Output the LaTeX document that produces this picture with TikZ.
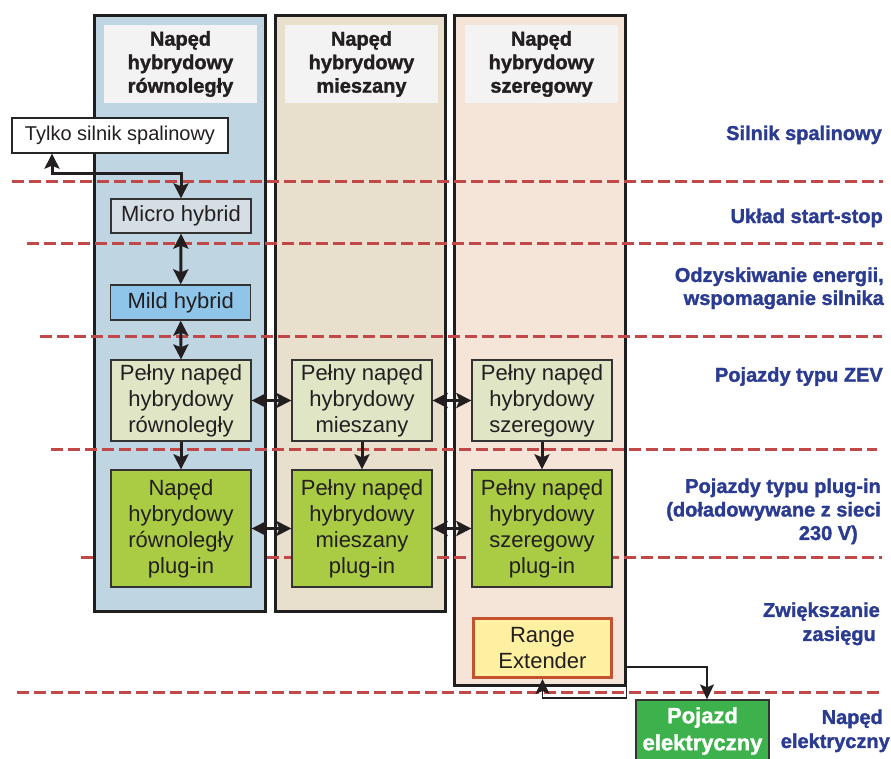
\documentclass[tikz,border=0pt]{standalone}
\usepackage{fontspec}
\setmainfont{Liberation Sans}
\newfontfamily\heavyfont{Liberation Sans}[BoldFeatures={FakeBold=1.5}]
\usetikzlibrary{arrows.meta}
\definecolor{colblue}{HTML}{BFD5E2}
\definecolor{colbeige}{HTML}{E8E0CC}
\definecolor{colpeach}{HTML}{F5E4D8}
\definecolor{hdrgray}{HTML}{F3F3F3}
\definecolor{microfill}{HTML}{D5DEE5}
\definecolor{mildfill}{HTML}{8EC5E8}
\definecolor{fullfill}{HTML}{DFE5C5}
\definecolor{plugfill}{HTML}{AACB44}
\definecolor{refill}{HTML}{FDF0A0}
\definecolor{reborder}{HTML}{C5512F}
\definecolor{evfill}{HTML}{3DB14B}
\definecolor{lblblue}{HTML}{2A3B91}
\definecolor{dashred}{HTML}{C04848}
\definecolor{inktext}{HTML}{231F20}
\begin{document}
\begin{tikzpicture}[x=1pt,y=-1pt,
 column/.style={draw=black!88, line width=3pt, inner sep=0pt, minimum width=171pt},
 header/.style={fill=hdrgray, inner sep=0pt, minimum width=153pt, minimum height=78pt, align=center, text=inktext, font=\heavyfont\bfseries\fontsize{20}{23.5}\selectfont},
 stage/.style={draw=black!80, line width=1.3pt, inner sep=0pt, minimum width=140pt, align=center, text=inktext, font=\fontsize{22}{26}\selectfont},
 rowlabel/.style={inner sep=0pt, align=right, text=lblblue, font=\heavyfont\bfseries\fontsize{20}{23.5}\selectfont},
 limit/.style={draw=dashred, line width=3pt, dash pattern=on 12pt off 5pt},
 tip/.tip={Stealth[length=15pt,width=15pt,inset=3pt]},
 link/.style={draw=inktext, line width=3pt, tip-tip},
 flow/.style={draw=inktext, line width=3pt, -tip},
 thinflow/.style={draw=inktext, line width=1.4pt, -{Stealth[length=15pt,width=14pt,inset=3pt]}}
]
\useasboundingbox (0,0) rectangle (891,758);

% columns
\node[column, fill=colblue, minimum height=596pt] (colA) at (180,313.5) {};
\node[column, fill=colbeige, minimum height=596pt, minimum width=170pt] (colB) at (360.5,313.5) {};
\node[column, fill=colpeach, minimum height=670pt, minimum width=170.5pt] (colC) at (539.75,350.5) {};

% headers
\node[header] (hA) at (180.5,64) {Napęd\\hybrydowy\\równoległy};
\node[header] (hB) at (361.5,64) {Napęd\\hybrydowy\\mieszany};
\node[header] (hC) at (541.5,64) {Napęd\\hybrydowy\\szeregowy};

% dashed limits
\draw[limit] (12,181.5) -- (883,181.5);
\draw[limit] (27,243.5) -- (883,243.5);
\draw[limit] (40,336.5) -- (882,336.5);
\draw[limit] (51,449.5) -- (877,449.5);
\draw[limit] (81,557.5) -- (93,557.5);
\draw[limit] (267,557.5) -- (882,557.5);
\draw[limit] (17,692.5) -- (883,692.5);

% boxes
\node[draw=black!85, line width=1.3pt, fill=white, inner sep=0pt, minimum width=216pt, minimum height=35pt, font=\fontsize{20}{24}\selectfont, text=inktext] (ice) at (120,135.5) {Tylko silnik spalinowy};
\node[stage, fill=microfill, minimum height=34pt] (micro) at (181,216) {Micro hybrid};
\node[stage, fill=mildfill, minimum height=35pt] (mild) at (180.7,302.5) {Mild hybrid};
\node[stage, fill=fullfill, minimum height=81pt] (fullA) at (181,400.5) {Pełny napęd\\hybrydowy\\równoległy};
\node[stage, fill=fullfill, minimum height=81pt] (fullB) at (362,400.5) {Pełny napęd\\hybrydowy\\mieszany};
\node[stage, fill=fullfill, minimum height=81pt] (fullC) at (542,400.5) {Pełny napęd\\hybrydowy\\szeregowy};
\node[stage, fill=plugfill, minimum height=117pt] (plugA) at (181,528.5) {Napęd\\hybrydowy\\równoległy\\plug-in};
\node[stage, fill=plugfill, minimum height=117pt] (plugB) at (362,528.5) {Pełny napęd\\hybrydowy\\mieszany\\plug-in};
\node[stage, fill=plugfill, minimum height=117pt] (plugC) at (542,528.5) {Pełny napęd\\hybrydowy\\szeregowy\\plug-in};
\node[stage, fill=refill, draw=reborder, line width=3pt, minimum width=138pt, minimum height=59pt, font=\fontsize{22}{25.5}\selectfont] (rex) at (542.5,648) {Range\\Extender};
\node[fill=evfill, draw=black!80, line width=1.3pt, inner sep=0pt, minimum width=133pt, minimum height=62pt, align=center, text=white, font=\heavyfont\bfseries\fontsize{22}{27}\selectfont] (ev) at (702.5,731) {Pojazd\\elektryczny};

% row labels
\node[rowlabel, anchor=base east] (l1) at (882,140) {Silnik spalinowy};
\node[rowlabel, anchor=base east] (l2) at (883,223) {Układ start-stop};
\node[rowlabel, anchor=east, font=\heavyfont\bfseries\fontsize{20}{23}\selectfont] (l3) at (884,288.3) {Odzyskiwanie energii,\\wspomaganie silnika};
\node[rowlabel, anchor=base east] (l4) at (883,381.7) {Pojazdy typu ZEV};
\node[rowlabel, anchor=east] (l5) at (881,511.3) {Pojazdy typu plug-in\\(doładowywane z sieci\\230 V)\hspace*{23pt}};
\node[rowlabel, anchor=east, font=\heavyfont\bfseries\fontsize{20}{24}\selectfont] (l6) at (880,623.8) {Zwiększanie\\zasięgu\hspace*{4pt}};
\node[rowlabel, anchor=east, font=\heavyfont\bfseries\fontsize{20}{24}\selectfont] (l7) at (890,730.8) {Napęd\hspace*{7pt}\\elektryczny};

% connectors
\coordinate (bend) at (52,173);
\draw[link] (bend |- ice.south) -- (bend) -| (micro.north);
\draw[link] (micro.south) -- (mild.north);
\draw[link] (mild.south) -- (fullA.north);
\draw[link] (fullA.east) -- (fullB.west);
\draw[link] (fullB.east) -- (fullC.west);
\draw[link] (plugA.east) -- (plugB.west);
\draw[link] (plugB.east) -- (plugC.west);
\draw[flow] (fullA.south) -- (plugA.north);
\draw[flow] (fullB.south) -- (plugB.north);
\draw[flow] (fullC.south) -- (plugC.north);
\coordinate (evtap) at (707,667);
\draw[thinflow] (colC.east |- evtap) -- (evtap) -- (evtap |- ev.north);
\coordinate (retap) at (626,698);
\draw[thinflow] (colC.south east) -- (colC.south east |- retap) -| (rex.south);
\end{tikzpicture}
\end{document}
